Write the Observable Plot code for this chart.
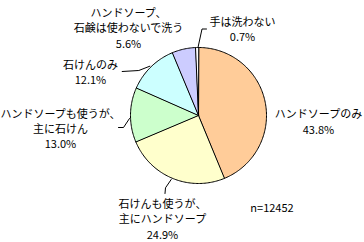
<!DOCTYPE html>
<html>
<head>
<meta charset="utf-8">
<script src="https://cdn.jsdelivr.net/npm/d3@7"></script>
<script src="https://cdn.jsdelivr.net/npm/@observablehq/plot@0.6"></script>
<style>
  html, body { margin: 0; padding: 0; background: #fff; }
  #chart svg { display: block; }
</style>
</head>
<body>
<div id="chart"></div>
<script>
// ---- data ----
const categories = [
  "ハンドソープのみ",
  "石けんも使うが、主にハンドソープ",
  "ハンドソープも使うが、主に石けん",
  "石けんのみ",
  "ハンドソープ、石鹸は使わないで洗う",
  "手は洗わない"
];
const values = [43.8, 24.9, 13.0, 12.1, 5.6, 0.7];
const labelTexts = [
  "ハンドソープのみ\n43.8%",
  "石けんも使うが、\n主にハンドソープ\n24.9%",
  "ハンドソープも使うが、\n主に石けん\n13.0%",
  "石けんのみ\n12.1%",
  "ハンドソープ、\n石鹸は使わないで洗う\n5.6%",
  "手は洗わない\n0.7%"
];
const sampleNote = "n=12452";

// ---- styles / layout ----
const colors = ["#FFCC99", "#FFFFCC", "#CCFFCC", "#CCFFFF", "#CCCCFF", "#FFFFFF"];
const W = 364, H = 242;
const cx = 198, cy = 115, R = 68;
const labelX = [318, 162, 60, 90, 128, 242];
const labelY = [120.5, 218, 127.5, 71, 27, 28];
const leaders = [
  null,
  [[170.7, 179], [165, 187.3], [164.5, 193]],
  [[129, 118], [123, 127], [118, 127]],
  [[149.3, 65.7], [138.3, 70], [121.7, 71]],
  null,
  [[197.5, 47], [201.5, 28.5], [206, 28.5]]
];
const font = "'Noto Sans CJK JP', 'Noto Sans', sans-serif";

// ---- build slices ----
const arcs = d3.pie().sort(null).value(d => d)(values);
const slicePts = [];
arcs.forEach((a, i) => {
  slicePts.push({k: i, x: cx, y: cy, c: colors[i]});
  const n = Math.max(2, Math.ceil((a.endAngle - a.startAngle) / 0.02));
  for (let j = 0; j <= n; j++) {
    const t = a.startAngle + (a.endAngle - a.startAngle) * j / n;
    slicePts.push({k: i, x: cx + R * Math.sin(t), y: cy - R * Math.cos(t), c: colors[i]});
  }
});

const leaderPts = [];
leaders.forEach((l, i) => {
  if (l) l.forEach(p => leaderPts.push({k: i, x: p[0], y: p[1]}));
});

const labels = categories.map((c, i) => ({x: labelX[i], y: labelY[i], t: labelTexts[i]}));

const chart = Plot.plot({
  width: W, height: H,
  margin: 0,
  x: {domain: [0, W], range: [0, W], axis: null},
  y: {domain: [0, H], range: [0, H], axis: null},
  color: {type: "identity"},
  style: {fontFamily: font, background: "#fff"},
  marks: [
    Plot.line(slicePts, {x: "x", y: "y", z: "k", fill: "c", stroke: "#000", strokeWidth: 1, curve: "linear-closed"}),
    Plot.line(leaderPts, {x: "x", y: "y", z: "k", stroke: "#000", strokeWidth: 1}),
    Plot.text(labels, {x: "x", y: "y", text: "t", fontSize: 11, lineHeight: 1.4, fill: "#000"}),
    Plot.text([sampleNote], {x: () => 271.5, y: () => 208, text: d => d, fontSize: 11, fill: "#000"})
  ]
});
document.getElementById("chart").appendChild(chart);
</script>
</body>
</html>
